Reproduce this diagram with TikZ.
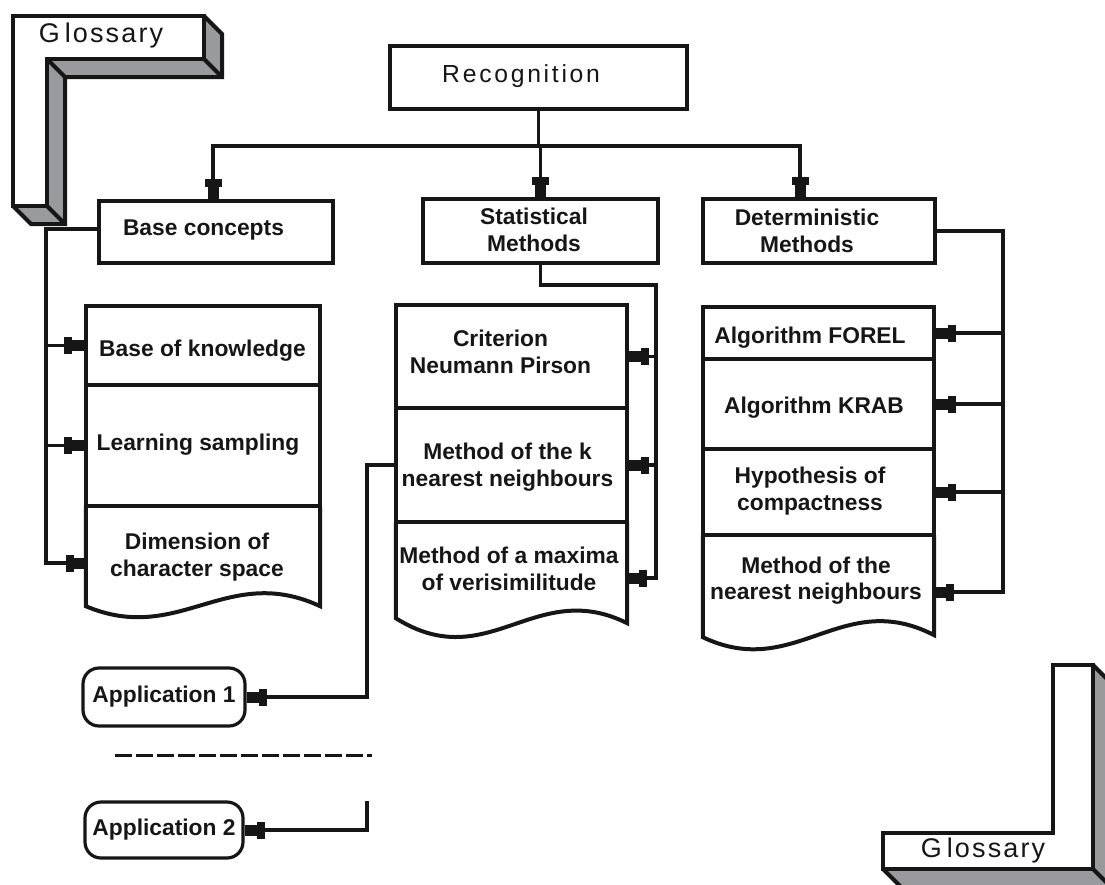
\documentclass[tikz,border=0pt]{standalone}
\usepackage{fontspec}
\setmainfont{Liberation Sans}
\newfontfamily\recfont[LetterSpace=11]{Liberation Sans}
\newfontfamily\glossfont[LetterSpace=8]{Liberation Sans}
\usetikzlibrary{arrows.meta,calc}
\definecolor{ink}{RGB}{22,22,22}
\definecolor{glossgrey}{RGB}{152,154,158}
\begin{document}
\begin{tikzpicture}[x=1pt,y=-1pt,
  every node/.style={inner sep=0pt},
  lbl/.style={text=ink,align=center,font=\bfseries\fontsize{22.8}{26.7}\selectfont},
  frame/.style={draw=ink,line width=4pt},
  conn/.style={draw=ink,line width=3.8pt},
  tipped/.style={conn,-{Rectangle[length=8pt,width=17pt,sep=0pt]Rectangle[length=12pt,width=11pt]}},
  appbox/.style={draw=ink,line width=3.2pt,rounded corners=16pt,text=ink,font=\bfseries\fontsize{22.8}{26.7}\selectfont},
  glossedge/.style={draw=ink,line width=4pt,line join=miter},
  glosstext/.style={text=ink,font=\glossfont\fontsize{27}{30}\selectfont},
]
\useasboundingbox (0,0) rectangle (1105,884);

% ---------- Glossary top left ----------
\fill[glossgrey] (204,16) -- (222,34) -- (222,77) -- (65,77) -- (65,224) -- (31,224) -- (13,206) -- (47,206) -- (47,59) -- (204,59) -- cycle;
\draw[glossedge] (204,16) -- (222,34) -- (222,77) -- (65,77) -- (65,224) -- (31,224) -- (13,206);
\draw[glossedge] (204,59) -- (222,77) (47,59) -- (65,77) (47,206) -- (65,224);
\filldraw[glossedge,fill=white] (13,16) -- (204,16) -- (204,59) -- (47,59) -- (47,206) -- (13,206) -- cycle;
\node[glosstext] (g1) at (101,36) {G\kern5pt lossary};

% ---------- Glossary bottom right ----------
\fill[glossgrey] (1093,665) -- (1111,683) -- (1111,887) -- (901,887) -- (883,869) -- (1093,869) -- cycle;
\draw[glossedge] (1093,665) -- (1111,683) (883,869) -- (901,887) (1093,869) -- (1111,887);
\filldraw[glossedge,fill=white] (1053,665) -- (1093,665) -- (1093,869) -- (883,869) -- (883,833) -- (1053,833) -- cycle;
\node[glosstext] (g2) at (983,850.5) {G\kern5pt lossary};

% ---------- top boxes ----------
\node[frame,minimum width=297pt,minimum height=63pt] (rec) at (538.5,77.5) {};
\node[text=ink,font=\recfont\fontsize{24.7}{28}\selectfont] (rect) at (521,76.5) {R\kern3pt ecognition};

\node[frame,minimum width=234pt,minimum height=62pt] (base) at (216,232) {};
\node[lbl] (baset) at (203.5,229.7) {Base concepts};
\node[frame,minimum width=235pt,minimum height=64pt] (stat) at (540.5,231) {};
\node[lbl] (statt) at (534,230) {Statistical\\Methods};
\node[frame,minimum width=232pt,minimum height=64pt] (det) at (819,231) {};
\node[lbl] (dett) at (807,230.5) {Deterministic\\Methods};

% ---------- base list ----------
\node[frame,minimum width=234pt,minimum height=79pt] (b1) at (203,345.5) {};
\node[frame,minimum width=234pt,minimum height=121pt] (b2) at (203,445.5) {};
\node[minimum width=234pt,minimum height=100pt] (b3) at (203,556) {};
\draw[glossedge] (b3.north west) -- (b3.south west) .. controls +(93.6,39.5) and +(-93.6,-43.5) .. (b3.south east) -- (b3.north east);
\node[lbl] (b1t) at (202.5,351) {Base of knowledge};
\node[lbl] (b2t) at (198,445) {Learning sampling};
\node[lbl] (b3t) at (197,557) {Dimension of\\character space};

% ---------- statistical list ----------
\node[frame,minimum width=231pt,minimum height=103pt] (s1) at (511.5,356.5) {};
\node[frame,minimum width=231pt,minimum height=114pt] (s2) at (511.5,465) {};
\node[minimum width=231pt,minimum height=96pt] (s3) at (511.5,570) {};
\draw[glossedge] (s3.north west) -- (s3.south west) .. controls +(92.4,58) and +(-92.4,-46) .. ($(s3.south east)+(0,5)$) -- (s3.north east);
\node[lbl] (s1t) at (500.5,351.7) {Criterion\\Neumann Pirson};
\node[lbl] (s2t) at (507.5,467) {Method of the k\\nearest neighbours};
\node[lbl] (s3t) at (509,569) {Method of a maxima\\of verisimilitude};

% ---------- deterministic list ----------
\node[frame,minimum width=231pt,minimum height=52pt] (d1) at (818.5,333) {};
\node[frame,minimum width=231pt,minimum height=90pt] (d2) at (818.5,404) {};
\node[frame,minimum width=231pt,minimum height=86pt] (d3) at (818.5,492) {};
\node[minimum width=231pt,minimum height=101pt] (d4) at (818.5,585.5) {};
\draw[glossedge] (d4.north west) -- ($(d4.south west)+(0,1)$) .. controls +(92.4,44) and +(-92.4,-48) .. ($(d4.south east)+(0,-1)$) -- (d4.north east);
\node[lbl] (d1t) at (810,337.4) {Algorithm FOREL};
\node[lbl] (d2t) at (814,407.3) {Algorithm KRAB};
\node[lbl] (d3t) at (810,491) {Hypothesis of\\compactness};
\node[lbl] (d4t) at (816,580.5) {Method of the\\nearest neighbours};

% ---------- applications ----------
\node[appbox,minimum width=162pt,minimum height=58pt] (app1) at (164,697) {Application 1};
\node[appbox,minimum width=158pt,minimum height=56pt] (app2) at (164,830) {Application 2};

% ---------- connectors ----------
\coordinate (hb) at (0,146);
\coordinate (bn) at ([xshift=-3pt]base.north);
\coordinate (dn) at ([xshift=-19pt]det.north);
\draw[conn] (rec.south) -- (rec.south |- hb);
\draw[tipped] (rec.south |- hb) -| (bn);
\draw[tipped] (rec.south |- hb) -| (dn);
\draw[tipped] (stat.north |- hb) -- (stat.north);

\coordinate (bx) at (46,0);
\coordinate (bw) at ([yshift=3pt]base.west);
\coordinate (b3a) at ([yshift=-7pt]b3.west);
\draw[tipped] (bw) -| (bx |- b3a) -- (b3a);
\draw[tipped] (bx |- b1.west) -- (b1.west);
\draw[tipped] (bx |- b2.west) -- (b2.west);

\coordinate (sx) at (656,0);
\coordinate (s3a) at ([yshift=-8pt]s3.east);
\draw[tipped] (stat.south) -- ++(0,20) -| (sx |- s3a) -- (s3a);
\draw[tipped] (sx |- s1.east) -- (s1.east);
\draw[tipped] (sx |- s2.east) -- (s2.east);

\coordinate (dx) at (1003,0);
\coordinate (d4a) at ([yshift=-6.5pt]d4.east);
\draw[tipped] (det.east) -| (dx |- d4a) -- (d4a);
\draw[tipped] (dx |- d1.east) -- (d1.east);
\draw[tipped] (dx |- d2.east) -- (d2.east);
\draw[tipped] (dx |- d3.east) -- (d3.east);

\coordinate (ax) at (367,0);
\draw[tipped] (s2.west) -| (ax |- app1.east) -- (app1.east);
\coordinate (a2) at (367,801);
\draw[tipped] (a2) |- (app2.east);

\coordinate (dl) at (115,755);
\coordinate (dr) at (372,755);
\draw[conn,line width=3pt,dash pattern=on 17pt off 4pt] (dl) -- (dr);
\end{tikzpicture}
\end{document}
